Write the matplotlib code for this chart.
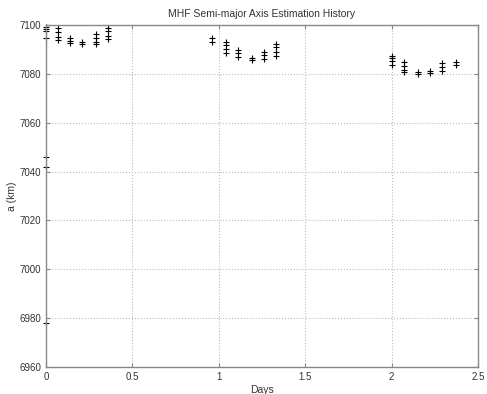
import matplotlib
matplotlib.use("Agg")
import matplotlib.pyplot as plt

plt.rcParams['font.family'] = ['Liberation Sans', 'DejaVu Sans']

# Estimation history samples (days, km)
days = [0.0, 0.0, 0.0, 0.0, 0.0, 0.0, 0.0,
        0.07, 0.07, 0.07, 0.07,
        0.14, 0.14, 0.14,
        0.21, 0.21,
        0.29, 0.29, 0.29, 0.29,
        0.36, 0.36, 0.36, 0.36,
        0.96, 0.96,
        1.04, 1.04, 1.04, 1.04,
        1.11, 1.11, 1.11,
        1.19, 1.19,
        1.26, 1.26, 1.26,
        1.33, 1.33, 1.33, 1.33,
        2.00, 2.00, 2.00, 2.00,
        2.07, 2.07, 2.07, 2.07,
        2.15, 2.15,
        2.22, 2.22,
        2.29, 2.29, 2.29,
        2.37, 2.37]
sma = [7099.0, 7098.2, 7097.6, 7094.6, 7045.9, 7042.0, 6978.0,
       7098.8, 7097.1, 7095.0, 7094.0,
       7094.7, 7093.4, 7092.6,
       7093.0, 7092.2,
       7096.3, 7094.7, 7093.0, 7092.2,
       7098.8, 7097.5, 7095.5, 7094.3,
       7094.7, 7093.0,
       7093.0, 7091.8, 7090.2, 7088.5,
       7089.8, 7088.5, 7086.9,
       7086.5, 7085.7,
       7089.0, 7087.7, 7086.0,
       7092.2, 7091.0, 7089.0, 7087.3,
       7087.4, 7086.3, 7085.1, 7083.6,
       7084.7, 7083.3, 7081.6, 7080.6,
       7080.6, 7080.0,
       7081.3, 7080.2,
       7084.4, 7082.7, 7081.0,
       7085.0, 7083.7]

xticks = [0, 0.5, 1, 1.5, 2, 2.5]
xticklabels = ['0', '0.5', '1', '1.5', '2', '2.5']
yticks = [6960, 6980, 7000, 7020, 7040, 7060, 7080, 7100]

fig = plt.figure(figsize=(4.87, 3.94), dpi=100)
ax = fig.add_axes([0.0945, 0.0685, 0.887, 0.868])

ax.plot(days, sma, linestyle='none', marker='+', color='black',
        markersize=5, markeredgewidth=0.8, clip_on=False)

ax.set_xlim(0, 2.5)
ax.set_ylim(6960, 7100)
ax.set_xticks(xticks)
ax.set_xticklabels(xticklabels)
ax.set_yticks(yticks)

ax.grid(True, linestyle=':', color='#bbbbbb', linewidth=0.8)
for s in ax.spines.values():
    s.set_color('#888888')
    s.set_linewidth(1.0)
ax.tick_params(direction='in', length=3, color='#888888', labelsize=7,
               labelcolor='#333333', top=True, right=True)

ax.set_title('MHF Semi-major Axis Estimation History', fontsize=7.5,
             color='#333333', pad=6)
ax.set_xlabel('Days', fontsize=7.5, color='#333333', labelpad=2)
ax.set_ylabel('a (km)', fontsize=7.5, color='#333333', labelpad=2)

fig.savefig('out.png', dpi=100)
